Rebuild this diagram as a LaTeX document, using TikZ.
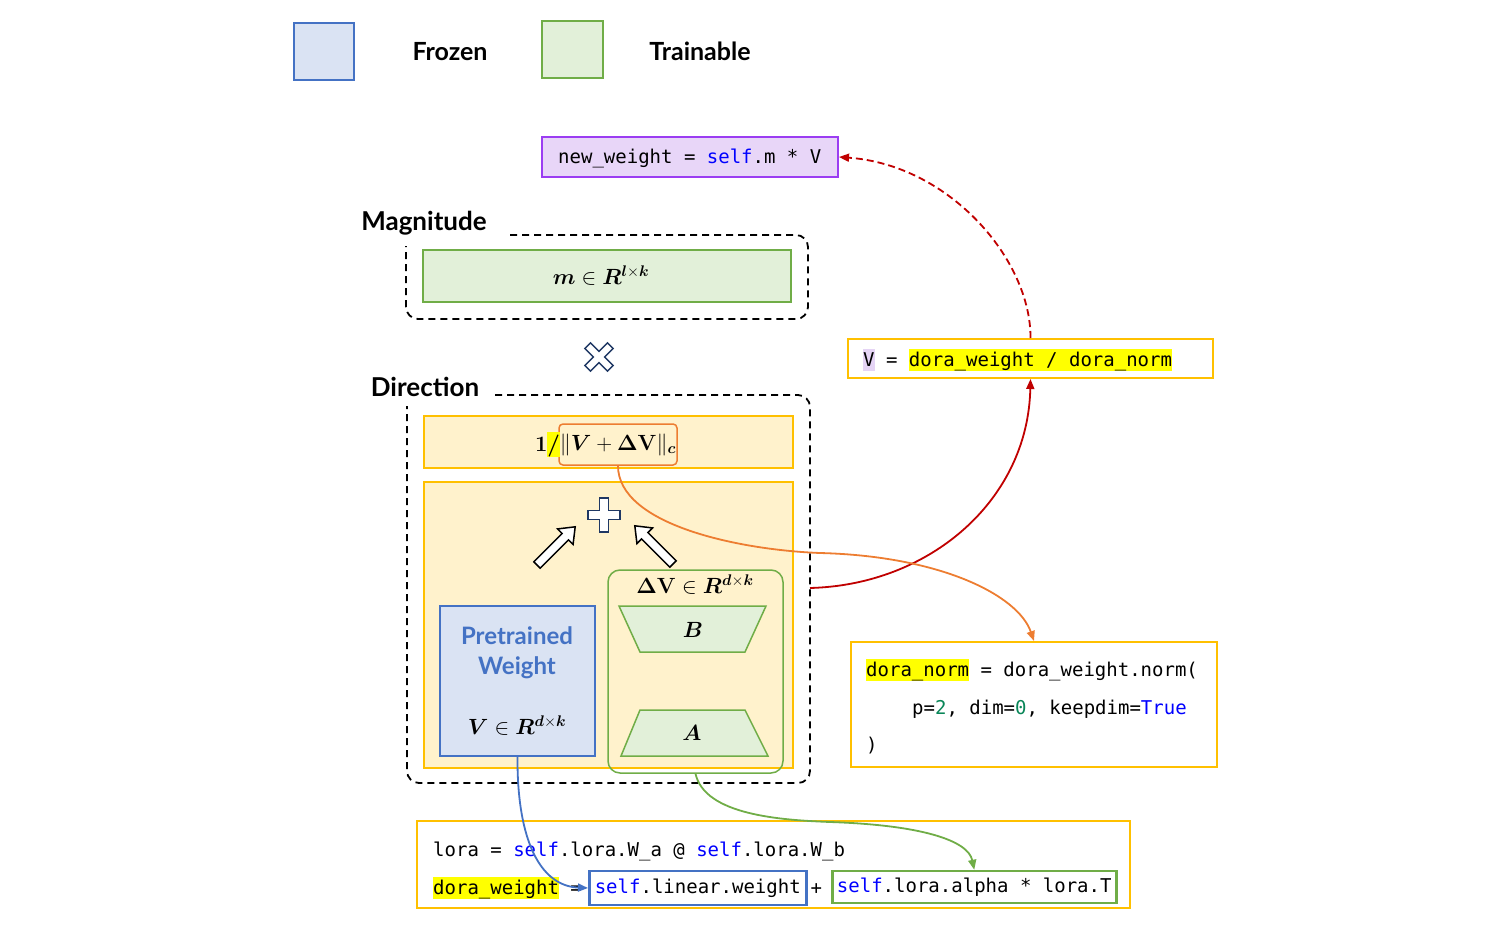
\documentclass[tikz,border=0pt]{standalone}
\usepackage{fix-cm}
\usepackage{amsmath,bm}
\usepackage[no-math]{fontspec}
\newfontfamily\labfont{Lato}
\newfontfamily\codefont{DejaVu Sans Mono}
\usetikzlibrary{arrows.meta}
\definecolor{blueD}{HTML}{4472C4}
\definecolor{blueF}{HTML}{DAE3F3}
\definecolor{greenD}{HTML}{70AD47}
\definecolor{greenF}{HTML}{E2F0D9}
\definecolor{yelD}{HTML}{FFC000}
\definecolor{yelF}{HTML}{FFF2CC}
\definecolor{orangeD}{HTML}{ED7D31}
\definecolor{redD}{HTML}{C00000}
\definecolor{purpD}{HTML}{9B3DF2}
\definecolor{purpF}{HTML}{E8D6F8}
\definecolor{hlyel}{HTML}{FFFF00}
\definecolor{hlpurp}{HTML}{E5D4F5}
\definecolor{kwblue}{HTML}{0000FF}
\definecolor{numgreen}{HTML}{098658}
\definecolor{navy}{HTML}{1F3864}
\newcommand\hly[1]{{\setlength{\fboxsep}{0pt}\colorbox{hlyel}{\vrule width 0pt height 17pt depth 5pt\relax #1}}}
\newcommand\hlp[1]{{\setlength{\fboxsep}{0pt}\colorbox{hlpurp}{\vrule width 0pt height 17pt depth 5pt\relax #1}}}
\newcommand\kw[1]{\textcolor{kwblue}{#1}}
\newcommand\numc[1]{\textcolor{numgreen}{#1}}
\begin{document}
\begin{tikzpicture}[x=1pt,y=-1pt,
  lab/.style={font=\labfont\bfseries\fontsize{25}{30}\selectfont, inner sep=0pt},
  code/.style={font=\codefont\fontsize{19}{23}\selectfont\frenchspacing, inner sep=0pt, anchor=base west},
  codebx/.style={font=\codefont\fontsize{19}{23}\selectfont\frenchspacing, inner sep=0pt, text height=14pt, text depth=4pt},
  mth/.style={font=\fontsize{22}{26}\selectfont, inner sep=0pt},
  frozen/.style={draw=blueD, fill=blueF, line width=2pt},
  train/.style={draw=greenD, fill=greenF, line width=2pt},
  ybox/.style={draw=yelD, fill=yelF, line width=2pt},
  codebox/.style={draw=yelD, fill=white, line width=2pt},
  dashbox/.style={draw=black, line width=1.8pt, dash pattern=on 7pt off 5pt, rounded corners=12pt},
  symb/.style={draw=navy, fill=white, line width=1.5pt, line join=miter},
  harrow/.style={draw=black, fill=white, line width=1.5pt, line join=miter},
  tip/.style={-{Triangle[length=10pt,width=8pt]}},
  conn/.style={line width=1.8pt, tip}
]
\useasboundingbox (0,0) rectangle (1502,931);

% legend
\node[frozen, minimum width=60, minimum height=57] (lgf) at (324,51.5) {};
\node[lab] (lgft) at (450,52) {Frozen};
\node[train, minimum width=61, minimum height=57] (lgt) at (572.5,49.5) {};
\node[lab] (lgtt) at (700,51) {Trainable};

% new_weight box
\node[draw=purpD, fill=purpF, line width=2pt, minimum width=296, minimum height=40] (nw) at (690,157) {};
\node[code] (nwt) at (558,164) {new\_weight = \kw{self}.m * V};

% Magnitude
\draw[dashbox] (510,235) -| (808,319) -| (406,246);
\node[lab, font=\labfont\bfseries\fontsize{26}{30}\selectfont] (magl) at (424,223) {Magnitude};
\node[train, minimum width=368, minimum height=52] (mb) at (607,276) {};
\node[mth] (mt) at (601,276) {$\bm{m}\in\bm{R}^{\bm{l}\times\bm{k}}$};

% times symbol
\draw[symb, shift={(599,357)}, rotate=45]
  (4,16) -- (4,4) -- (16,4) -- (16,-4) -- (4,-4) -- (4,-16) -- (-4,-16) -- (-4,-4)
  -- (-16,-4) -- (-16,4) -- (-4,4) -- (-4,16) -- cycle;

% Direction
\draw[dashbox] (495,395) -| (810,783) -| (407,406);
\node[lab, font=\labfont\bfseries\fontsize{26}{30}\selectfont] (dirl) at (425,387) {Direction};
\coordinate (dirE) at (810,588);

% norm box
\node[ybox, minimum width=369, minimum height=52] (nb) at (608.5,442) {};
\node[draw=orangeD, line width=1.5pt, rounded corners=4pt, minimum width=118, minimum height=41, inner sep=0pt, font=\fontsize{22}{26}\selectfont] (orng) at (618,444.5) {$\|\bm{V}+\mathbf{\Delta V}\|_{\bm{c}}$};
\node[mth, anchor=east] (one) at ([xshift=2pt]orng.west) {$\mathbf{1}${\setlength{\fboxsep}{0pt}\colorbox{hlyel}{\vrule width 0pt height 20pt depth 4pt$\bm{/}$}}};

% big box
\node[ybox, minimum width=369, minimum height=286] (bb) at (608.5,625) {};

% plus symbol
\draw[symb, shift={(604,515)}]
  (4.5,17) -- (4.5,4.5) -- (16,4.5) -- (16,-4.5) -- (4.5,-4.5) -- (4.5,-17) -- (-4.5,-17) -- (-4.5,-4.5)
  -- (-16,-4.5) -- (-16,4.5) -- (-4.5,4.5) -- (-4.5,17) -- cycle;

% hollow arrows
\draw[harrow, shift={(537,565)}, rotate=45]
  (0,-4.5) -- (40,-4.5) -- (40,-11) -- (54,0) -- (40,11) -- (40,4.5) -- (0,4.5) -- cycle;
\draw[harrow, shift={(673,564)}, rotate=135]
  (0,-4.5) -- (40,-4.5) -- (40,-11) -- (54,0) -- (40,11) -- (40,4.5) -- (0,4.5) -- cycle;

% pretrained weight
\node[frozen, minimum width=155, minimum height=150] (pw) at (517.5,681) {};
\node[lab, text=blueD, font=\labfont\bfseries\fontsize{24}{30}\selectfont, align=center] (pwt) at (517,653) {Pretrained\\Weight};
\node[mth] (pwm) at (517,726) {$\bm{V}\in\bm{R}^{\bm{d}\times\bm{k}}$};

% delta V
\node[draw=greenD, line width=1.5pt, rounded corners=12pt, minimum width=175, minimum height=203] (dv) at (695.5,671.5) {};
\node[mth] (dvt) at (695,585) {$\mathbf{\Delta V}\in\bm{R}^{\bm{d}\times\bm{k}}$};
\draw[train, line width=1.5pt] (619,606) -- (766,606) -- (745,652) -- (640,652) -- cycle;
\node[mth] (bt) at (693,630) {$\bm{B}$};
\draw[train, line width=1.5pt] (640,710) -- (745,710) -- (768,756) -- (621,756) -- cycle;
\node[mth] (at) at (692,733) {$\bm{A}$};

% V = box
\node[codebox, minimum width=365, minimum height=39] (vbox) at (1030.5,358.5) {};
\node[code] (vt) at (863,366) {\hlp{V} = \hly{dora\_weight / dora\_norm}};

% dora_norm box
\node[codebox, minimum width=366, minimum height=125] (dnorm) at (1034,704.5) {};
\node[code] (dn1) at (866,676) {\hly{dora\_norm} = dora\_weight.norm(};
\node[code] (dn2) at (912,714) {p=\numc{2}, dim=\numc{0}, keepdim=\kw{True}};
\node[code] (dn3) at (866,751) {)};

% bottom code box
\node[codebox, minimum width=713, minimum height=87] (cb) at (773.5,864.5) {};
\node[code] (l1) at (433,856) {lora = \kw{self}.lora.W\_a @ \kw{self}.lora.W\_b};
\node[code] (l2) at (433,894) {\hly{dora\_weight} =};
\node[codebx, draw=blueD, line width=2.5pt, minimum width=217, minimum height=34, anchor=west] (lw) at (588,888) {\kw{self}.linear.weight};
\node[code] (pl) at (810.5,894) {+};
\node[codebx, draw=greenD, line width=2.5pt, minimum width=284, minimum height=32, anchor=west] (la) at (831,887) {\kw{self}.lora.alpha * lora.T};

% connectors
\draw[conn, redD, dash pattern=on 7pt off 4pt] (vbox.north) .. controls (1031,260) and (950,165) .. (nw.east);
\draw[conn, redD] (dirE) .. controls (930,585) and (1028,500) .. (vbox.south);
\coordinate (om) at (820,553);
\draw[conn, orangeD] (orng.south) .. controls (618,525) and (740,550) .. (om) .. controls (940,556) and (1018,595) .. (dnorm.north);
\draw[conn, blueD] (pw.south) .. controls (517,840) and (540,886) .. (lw.west);
\coordinate (gm) at (830,822);
\draw[conn, greenD] (dv.south) .. controls (705,815) and (780,820) .. (gm) .. controls (920,825) and (968,840) .. (la.north);
\end{tikzpicture}
\end{document}
